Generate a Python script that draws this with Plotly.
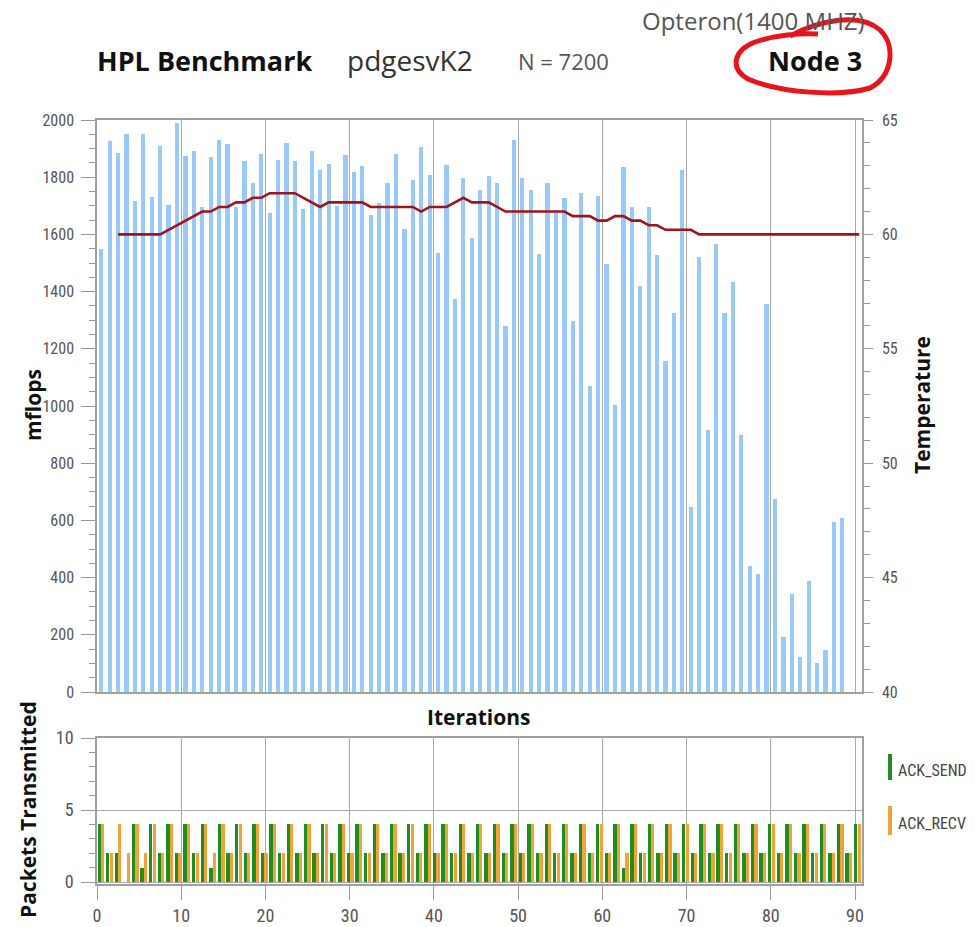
import numpy as np
import plotly.graph_objects as go

W, H = 975, 927

# ---------------- data ----------------
mflops = [1550, 1927, 1886, 1951, 1718, 1950, 1732, 1910, 1703, 1989,
          1874, 1893, 1697, 1872, 1930, 1915, 1695, 1857, 1781, 1880,
          1674, 1860, 1921, 1858, 1689, 1892, 1825, 1845, 1700, 1876,
          1817, 1839, 1668, 1709, 1781, 1880, 1619, 1790, 1907, 1808,
          1534, 1843, 1374, 1796, 1589, 1755, 1804, 1781, 1281, 1930,
          1796, 1755, 1532, 1779, 1686, 1726, 1297, 1746, 1070, 1735,
          1497, 1004, 1834, 1697, 1420, 1697, 1528, 1159, 1324, 1825,
          648, 1520, 916, 1567, 1326, 1435, 899, 441, 413, 1356,
          674, 191, 342, 121, 388, 100, 147, 593, 607]
iter_bar = [k + 0.5 for k in range(len(mflops))]

temperature = [60, 60, 60, 60, 60, 60, 60.2, 60.4, 60.6, 60.8,
               61.0, 61.0, 61.2, 61.2, 61.4, 61.4, 61.6, 61.6, 61.8, 61.8,
               61.8, 61.8, 61.6, 61.4, 61.2, 61.4, 61.4, 61.4, 61.4, 61.4,
               61.2, 61.2, 61.2, 61.2, 61.2, 61.2, 61.0, 61.2, 61.2, 61.2,
               61.4, 61.6, 61.4, 61.4, 61.4, 61.2, 61.0, 61.0, 61.0, 61.0,
               61.0, 61.0, 61.0, 61.0, 60.8, 60.8, 60.8, 60.6, 60.6, 60.8,
               60.8, 60.6, 60.6, 60.4, 60.4, 60.2, 60.2, 60.2, 60.2, 60,
               60, 60, 60, 60, 60, 60, 60, 60, 60, 60,
               60, 60, 60, 60, 60, 60, 60, 60, 60]
iter_temp = [k + 2.5 for k in range(len(temperature))]

ack_send = [4, 2, 2, 0, 4, 1, 4, 2, 4, 2,
            4, 2, 4, 1, 4, 2, 4, 2, 4, 2,
            4, 2, 4, 2, 4, 2, 4, 2, 4, 2,
            4, 2, 4, 2, 4, 2, 4, 2, 4, 2,
            4, 2, 4, 2, 4, 2, 4, 2, 4, 2,
            4, 2, 4, 2, 4, 2, 4, 2, 4, 2,
            4, 1, 4, 2, 4, 2, 4, 2, 4, 2,
            4, 2, 4, 2, 4, 2, 4, 2, 4, 2,
            4, 2, 4, 2, 4, 2, 4, 2, 4]
ack_recv = [4, 2, 4, 2, 4, 2, 4, 2, 4, 2,
            4, 2, 4, 2, 4, 2, 4, 2, 4, 2,
            4, 2, 4, 2, 4, 2, 4, 2, 4, 2,
            4, 2, 4, 2, 4, 2, 4, 2, 4, 2,
            4, 2, 4, 2, 4, 2, 4, 2, 4, 2,
            4, 2, 4, 2, 4, 2, 4, 2, 4, 2,
            4, 2, 4, 2, 4, 2, 4, 2, 4, 2,
            4, 2, 4, 2, 4, 2, 4, 2, 4, 2,
            4, 2, 4, 2, 4, 2, 4, 2, 4]
pkt_time = list(np.linspace(0.48, 90.3, len(ack_send)))

x_ticks = [0, 10, 20, 30, 40, 50, 60, 70, 80, 90]
mflops_ticks = [0, 200, 400, 600, 800, 1000, 1200, 1400, 1600, 1800, 2000]
temp_ticks = [40, 45, 50, 55, 60, 65]
pkt_ticks = [0, 5, 10]

# ---------------- style ----------------
BAR_BLUE = "#99CAF7"
TEMP_RED = "#A3141A"
GREEN = "#1E8E1E"
ORANGE = "#F2A23A"
GRID = "#A8A8A8"
FRAME = "#A0A0A0"
TICKC = "#9A9A9A"
TXT = "#555555"
NARROW = "Roboto Condensed, DejaVu Sans Condensed, Liberation Sans Narrow, Roboto, sans-serif"
TICKFONT = dict(family=NARROW, size=16, color=TXT)
BOLD = "Open Sans, Noto Sans, DejaVu Sans"


def px(x):
    return x / W


def py(y):
    return 1 - y / H


fig = go.Figure()

fig.add_trace(go.Bar(x=iter_bar, y=mflops, width=0.5, marker=dict(color=BAR_BLUE, line=dict(width=0)),
                     xaxis="x", yaxis="y", showlegend=False, name="mflops"))
fig.add_trace(go.Scatter(x=iter_temp, y=temperature, mode="lines",
                         line=dict(color=TEMP_RED, width=2.6), xaxis="x", yaxis="y2",
                         showlegend=False, name="Temperature"))
fig.add_trace(go.Bar(x=pkt_time, y=ack_send, width=0.4, offset=-0.42,
                     marker=dict(color=GREEN, line=dict(width=0)), xaxis="x2", yaxis="y3",
                     showlegend=False, name="ACK_SEND"))
fig.add_trace(go.Bar(x=pkt_time, y=ack_recv, width=0.38, offset=0.0,
                     marker=dict(color=ORANGE, line=dict(width=0)), xaxis="x2", yaxis="y3",
                     showlegend=False, name="ACK_RECV"))

xr = [0, 90.83]
top_dom = [py(692), py(120)]
bot_dom = [py(884.2), py(738)]
xdom = [px(97), px(862)]

fig.update_layout(
    width=W, height=H,
    margin=dict(l=0, r=0, t=0, b=0, autoexpand=False),
    paper_bgcolor="white", plot_bgcolor="white",
    barmode="overlay", bargap=0,
    xaxis=dict(domain=xdom, range=xr, anchor="y", tickvals=x_ticks, showticklabels=False,
               ticks="", showgrid=True, gridcolor=GRID, gridwidth=1.2, zeroline=False,
               showline=True, linecolor=FRAME, linewidth=1.5, mirror=True, automargin=False),
    yaxis=dict(domain=top_dom, range=[0, 2000], anchor="x", tickvals=mflops_ticks,
               ticks="outside", ticklen=14, tickcolor=TICKC, tickwidth=1, showgrid=False,
               zeroline=False, showline=True, linecolor=FRAME, linewidth=1.5,
               tickfont=TICKFONT, ticklabelstandoff=4, automargin=False,
               minor=dict(dtick=50, ticks="outside", ticklen=6, tickcolor=TICKC, showgrid=False)),
    yaxis2=dict(range=[40, 65], overlaying="y", side="right", anchor="x", tickvals=temp_ticks,
                ticks="outside", ticklen=9, tickcolor=TICKC, showgrid=False, zeroline=False,
                showline=True, linecolor=FRAME, linewidth=1.5, tickfont=TICKFONT,
                ticklabelstandoff=6, automargin=False,
                minor=dict(dtick=1, ticks="outside", ticklen=6, tickcolor=TICKC, showgrid=False)),
    xaxis2=dict(domain=xdom, range=xr, anchor="y3", tickvals=x_ticks, ticks="outside",
                ticklen=14, tickcolor=TICKC, showgrid=True, gridcolor=GRID, gridwidth=1.2,
                zeroline=False, showline=True, linecolor=FRAME, linewidth=1.5, mirror=True,
                tickfont=dict(family=NARROW, size=18, color=TXT), automargin=False),
    yaxis3=dict(domain=bot_dom, range=[-0.15, 10], anchor="x2", tickvals=pkt_ticks,
                ticks="outside", ticklen=14, tickcolor=TICKC, showgrid=True, gridcolor=GRID,
                gridwidth=1.2, zeroline=False, showline=True, linecolor=FRAME, linewidth=1.5,
                mirror=True, tickfont=dict(family=NARROW, size=18, color=TXT),
                ticklabelstandoff=4, automargin=False,
                minor=dict(dtick=1, ticks="outside", ticklen=6, tickcolor=TICKC, showgrid=False)),
)

ann = []


def text(x, y, s, size, color="#111", bold=False, xanchor="left", angle=0, family=BOLD):
    ann.append(dict(x=px(x), y=py(y), xref="paper", yref="paper", text=f"<b>{s}</b>" if bold else s,
                    showarrow=False, xanchor=xanchor, yanchor="middle", textangle=angle,
                    font=dict(family=family, size=size, color=color)))


text(95, 60, "HPL Benchmark", 27, "#111", True)
text(345, 60, "pdgesvK2", 28, "#333")
text(516, 61, "N = 7200", 22, "#555")
text(640, 21, "Opteron(1400 MHZ)", 24, "#555")
text(766, 60, "Node 3", 27, "#111", True)
text(478, 717, "Iterations", 21, "#111", True, xanchor="center")
text(33, 405, "mflops", 21, "#111", True, xanchor="center", angle=-90)
text(922, 405, "Temperature", 21, "#111", True, xanchor="center", angle=-90)
text(28, 810, "Packets Transmitted", 21, "#111", True, xanchor="center", angle=-90)
text(896, 770, "ACK_SEND", 16, "#444", family=NARROW)
text(896, 823, "ACK_RECV", 16, "#444", family=NARROW)

shapes = [
    dict(type="rect", xref="paper", yref="paper", x0=px(888), x1=px(892), y0=py(780), y1=py(754),
         fillcolor=GREEN, line=dict(width=0)),
    dict(type="rect", xref="paper", yref="paper", x0=px(888), x1=px(892), y0=py(835), y1=py(806),
         fillcolor=ORANGE, line=dict(width=0)),
]

loop_pts = [("M", [(790, 36)]),
            ("C", [(820, 20), (860, 12), (880, 30)]),
            ("C", [(896, 45), (893, 76), (870, 88)]),
            ("C", [(840, 97), (780, 93), (748, 79)]),
            ("C", [(729, 68), (734, 50), (755, 42)]),
            ("C", [(775, 35), (800, 33), (818, 34)])]
path = ""
for cmd, pts in loop_pts:
    path += cmd + " " + " ".join(f"{px(a):.5f},{py(b):.5f}" for a, b in pts) + " "
shapes.append(dict(type="path", xref="paper", yref="paper", path=path.strip(),
                   line=dict(color="#E8141C", width=5)))

fig.update_layout(annotations=ann, shapes=shapes)
fig.write_html("out.html", config={"displayModeBar": False},
               post_script="document.body.style.margin='0';document.body.style.overflow='hidden';")
